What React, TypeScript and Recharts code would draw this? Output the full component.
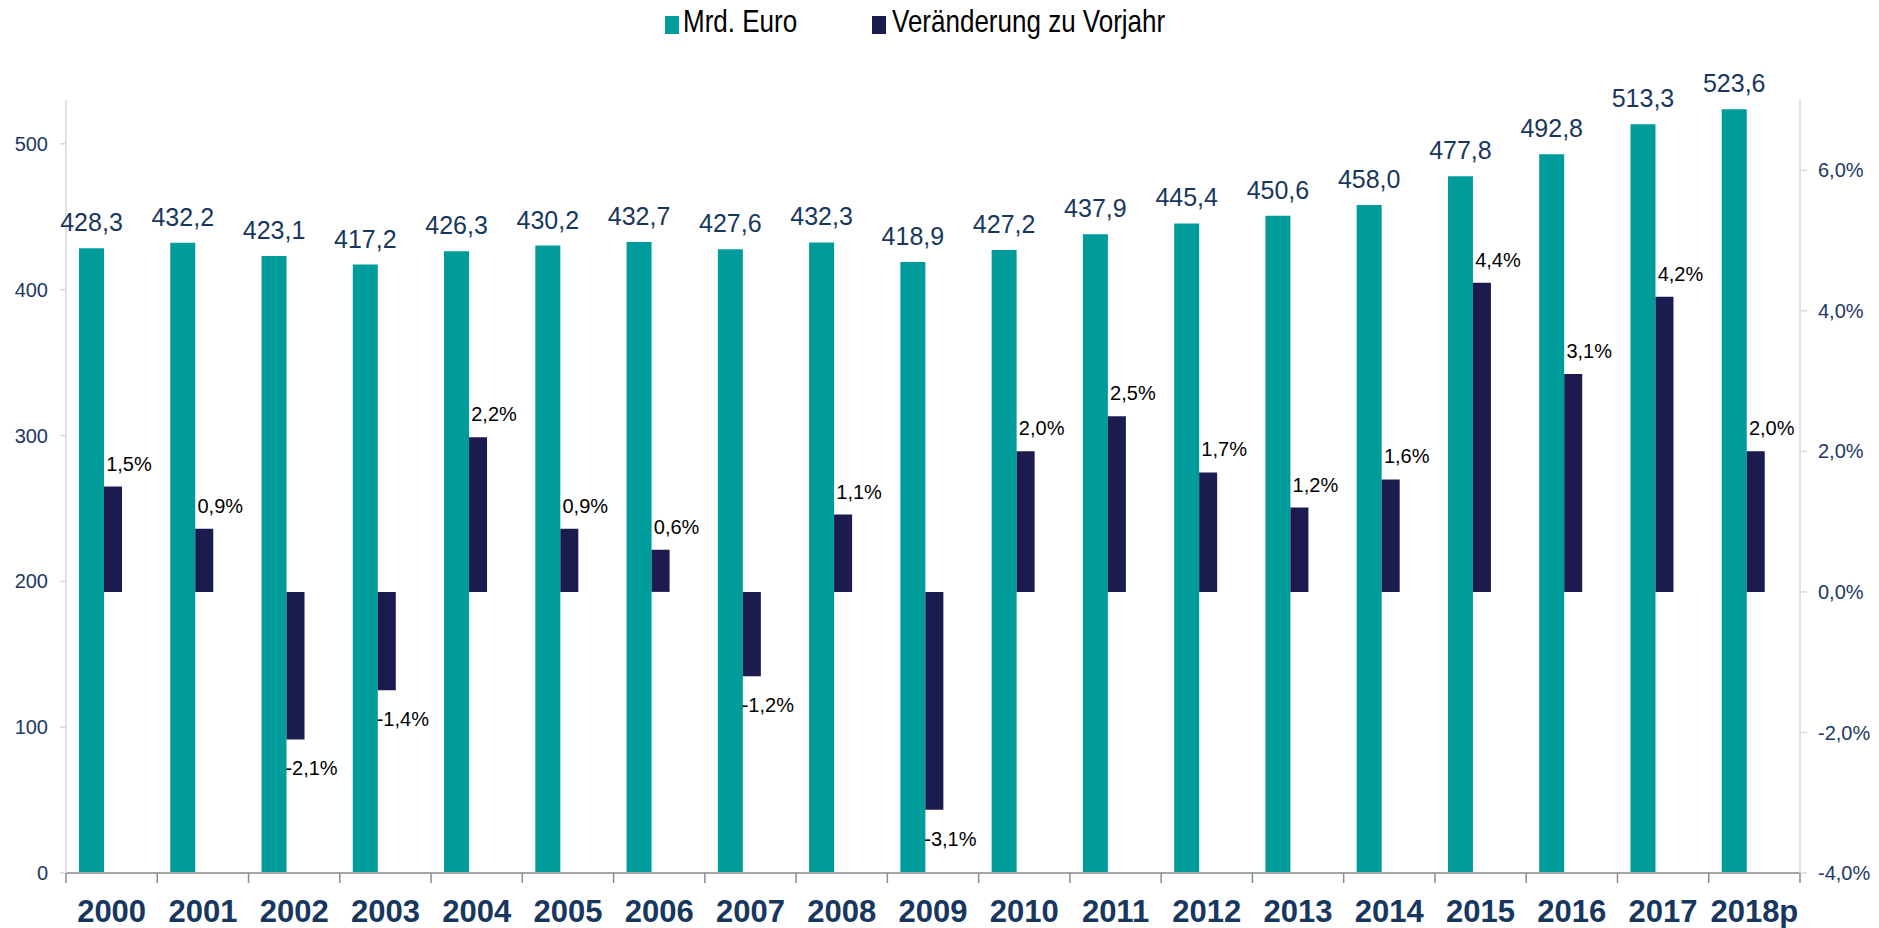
import React from 'react';
import { BarChart, Bar, XAxis, YAxis, LabelList } from 'recharts';

// values
const years = ['2000', '2001', '2002', '2003', '2004', '2005', '2006', '2007', '2008', '2009',
  '2010', '2011', '2012', '2013', '2014', '2015', '2016', '2017', '2018p'];
const mrdEuro = [428.3, 432.2, 423.1, 417.2, 426.3, 430.2, 432.7, 427.6, 432.3, 418.9,
  427.2, 437.9, 445.4, 450.6, 458.0, 477.8, 492.8, 513.3, 523.6];
const changePct = [1.5, 0.9, -2.1, -1.4, 2.2, 0.9, 0.6, -1.2, 1.1, -3.1,
  2.0, 2.5, 1.7, 1.2, 1.6, 4.4, 3.1, 4.2, 2.0];
const leftTicks = [0, 100, 200, 300, 400, 500];
const rightTicks = [-4, -2, 0, 2, 4, 6];

const data = years.map((year, i) => ({ year, euro: mrdEuro[i], change: changePct[i] }));

const TEAL = '#009b9b';
const NAVY_BAR = '#1c1b4f';
const TEXT_BLUE = '#17375e';
const TICK_BLUE = '#203864';
const FONT = '"Liberation Sans", Arial, sans-serif';

const fmt = (v: number) => v.toFixed(1).replace('.', ',');

const YearTick = (props: any) => {
  const { x, y, payload } = props;
  const half = payload.offset ?? 0;
  const last = payload.index === years.length - 1;
  return (
    <g>
      <line x1={x - half} y1={y} x2={x - half} y2={y + 10} stroke="#8c8c8c" strokeWidth={1.5} />
      {last && <line x1={x + half} y1={y} x2={x + half} y2={y + 10} stroke="#8c8c8c" strokeWidth={1.5} />}
      <text x={x} y={y + 49} textAnchor="middle" fill={TEXT_BLUE} fontSize={31} fontWeight="bold" fontFamily={FONT}>
        {payload.value}
      </text>
    </g>
  );
};

const EuroLabel = (props: any) => {
  const { x, y, width, value } = props;
  return (
    <text x={x + width / 2} y={y - 17} textAnchor="middle" fill={TEXT_BLUE} fontSize={25} fontFamily={FONT}>
      {fmt(value)}
    </text>
  );
};

const ChangeLabel = (props: any) => {
  const { x, y, width, height, value } = props;
  const top = Math.min(y, y + height);
  const bottom = Math.max(y, y + height);
  const ty = value >= 0 ? top - 16 : bottom + 36;
  return (
    <text x={x + width / 2 + 16} y={ty} textAnchor="middle" fill="#000" fontSize={20} fontFamily={FONT}>
      {fmt(value)}%
    </text>
  );
};

// legend text in the original is a bit taller than wide
const legendText = { position: 'absolute' as const, top: 7, lineHeight: '30px', whiteSpace: 'nowrap' as const, transform: 'scaleY(1.18)', transformOrigin: '0 60%' };

const Legend = () => (
  <div style={{ position: 'absolute', top: 0, left: 0, width: 1879, height: 50, fontFamily: FONT, fontSize: 26, color: '#000' }}>
    <div style={{ position: 'absolute', left: 665, top: 16, width: 14, height: 18, background: TEAL }} />
    <div style={{ ...legendText, left: 683 }}>Mrd. Euro</div>
    <div style={{ position: 'absolute', left: 872, top: 16, width: 14, height: 18, background: NAVY_BAR }} />
    <div style={{ ...legendText, left: 892 }}>Veränderung zu Vorjahr</div>
  </div>
);

export default function App() {
  return (
    <div style={{ position: 'absolute', left: 0, top: 0, width: 1879, height: 928, background: '#fff' }}>
      <Legend />
      <BarChart
        width={1879}
        height={928}
        data={data}
        margin={{ top: 100, right: 0, bottom: 0, left: 0 }}
        barGap={0}
      >
        <XAxis
          dataKey="year"
          height={55}
          interval={0}
          tickSize={0}
          tickMargin={0}
          tickLine={false}
          axisLine={{ stroke: '#a6a6a6', strokeWidth: 2 }}
          tick={<YearTick />}
        />
        <YAxis
          yAxisId="left"
          orientation="left"
          width={66}
          domain={[0, 530]}
          ticks={leftTicks}
          tickSize={6}
          tickMargin={12}
          axisLine={{ stroke: '#d9d9d9', strokeWidth: 1.5 }}
          tickLine={{ stroke: '#d9d9d9', strokeWidth: 1.5 }}
          tick={{ fill: TICK_BLUE, fontSize: 20, fontFamily: FONT }}
        />
        <YAxis
          yAxisId="right"
          orientation="right"
          width={79}
          domain={[-4, 7]}
          ticks={rightTicks}
          tickSize={7}
          tickMargin={11}
          axisLine={{ stroke: '#d9d9d9', strokeWidth: 1.5 }}
          tickLine={{ stroke: '#d9d9d9', strokeWidth: 1.5 }}
          tick={{ fill: TICK_BLUE, fontSize: 20, fontFamily: FONT }}
          tickFormatter={(v: number) => fmt(v) + '%'}
        />
        <Bar yAxisId="left" dataKey="euro" fill={TEAL} barSize={25} isAnimationActive={false}>
          <LabelList dataKey="euro" content={EuroLabel} />
        </Bar>
        <Bar yAxisId="right" dataKey="change" fill={NAVY_BAR} barSize={18} isAnimationActive={false}>
          <LabelList dataKey="change" content={ChangeLabel} />
        </Bar>
        {/* empty slot to the right of the pair, keeps the pair left of centre like the original */}
        <Bar yAxisId="left" dataKey="euro" fill="transparent" barSize={22} legendType="none" isAnimationActive={false} />
      </BarChart>
    </div>
  );
}
